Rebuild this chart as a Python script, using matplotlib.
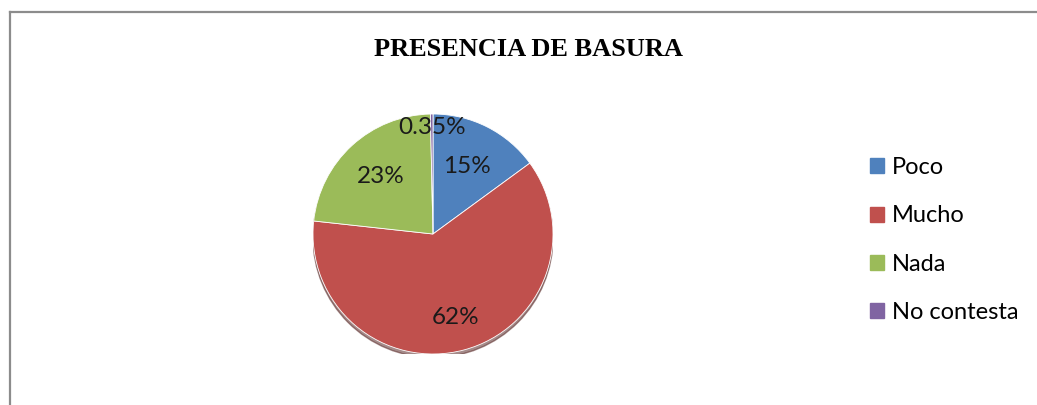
import numpy as np
import matplotlib
matplotlib.use("Agg")
import matplotlib.pyplot as plt
from matplotlib.lines import Line2D
from matplotlib.patches import Ellipse

# data
categories = ["Poco", "Mucho", "Nada", "No contesta"]
values = [15, 62, 23, 0.35]
pct_labels = ["15%", "62%", "23%", "0.35%"]
colors = ["#4f81bd", "#c0504d", "#9bbb59", "#8064a2"]
label_dist = [0.63, 0.72, 0.65, 0.89]   # Excel-ish label placement per slice

W, H = 1037, 405
fig = plt.figure(figsize=(W / 100, H / 100), dpi=100)

# chart-area border: only left and top edges show in the crop
fig.add_artist(Line2D([10 / W, 10 / W], [0, 1 - 12 / H], color="#8c8c8c", lw=1.6))
fig.add_artist(Line2D([10 / W, 1], [1 - 12 / H, 1 - 12 / H], color="#8c8c8c", lw=1.6))

fig.text(529 / W, 1 - 49 / H, "PRESENCIA DE BASURA", ha="center", va="center",
         family="Liberation Serif", fontweight="bold", fontsize=19)

# pie axes: centre ~ (433, 234), radius ~120 px
r = 120
ax = fig.add_axes([(433 - r) / W, (H - 234 - r) / H, 2 * r / W, 2 * r / H])

# soft shadow under the pie
ax.add_patch(Ellipse((0.0, -0.03), 2.0, 2.0, color="#5a2a28", alpha=0.55, zorder=0))

wedges, _ = ax.pie(values, colors=colors, startangle=90, counterclock=False,
                   radius=1.0, wedgeprops=dict(linewidth=0.6, edgecolor="white"))
for w in wedges:
    w.set_zorder(1)

for w, lab, d in zip(wedges, pct_labels, label_dist):
    mid = np.deg2rad((w.theta1 + w.theta2) / 2)
    ax.text(d * np.cos(mid), d * np.sin(mid), lab, ha="center", va="center",
            family="Lato", fontsize=17.5, color="#1a1a1a", zorder=3)

ax.set_xlim(-1, 1)
ax.set_ylim(-1, 1)
ax.set_aspect("equal")
ax.axis("off")

# legend
handles = [plt.Rectangle((0, 0), 1, 1, color=c) for c in colors]
fig.legend(handles, categories, loc="center left", bbox_to_anchor=(849 / W, 1 - 240 / H),
           frameon=False, prop=dict(family="Lato", size=17), handlelength=0.6,
           handleheight=0.6, handletextpad=0.3, labelspacing=1.15)

fig.savefig("out.png", dpi=100, facecolor="white")
